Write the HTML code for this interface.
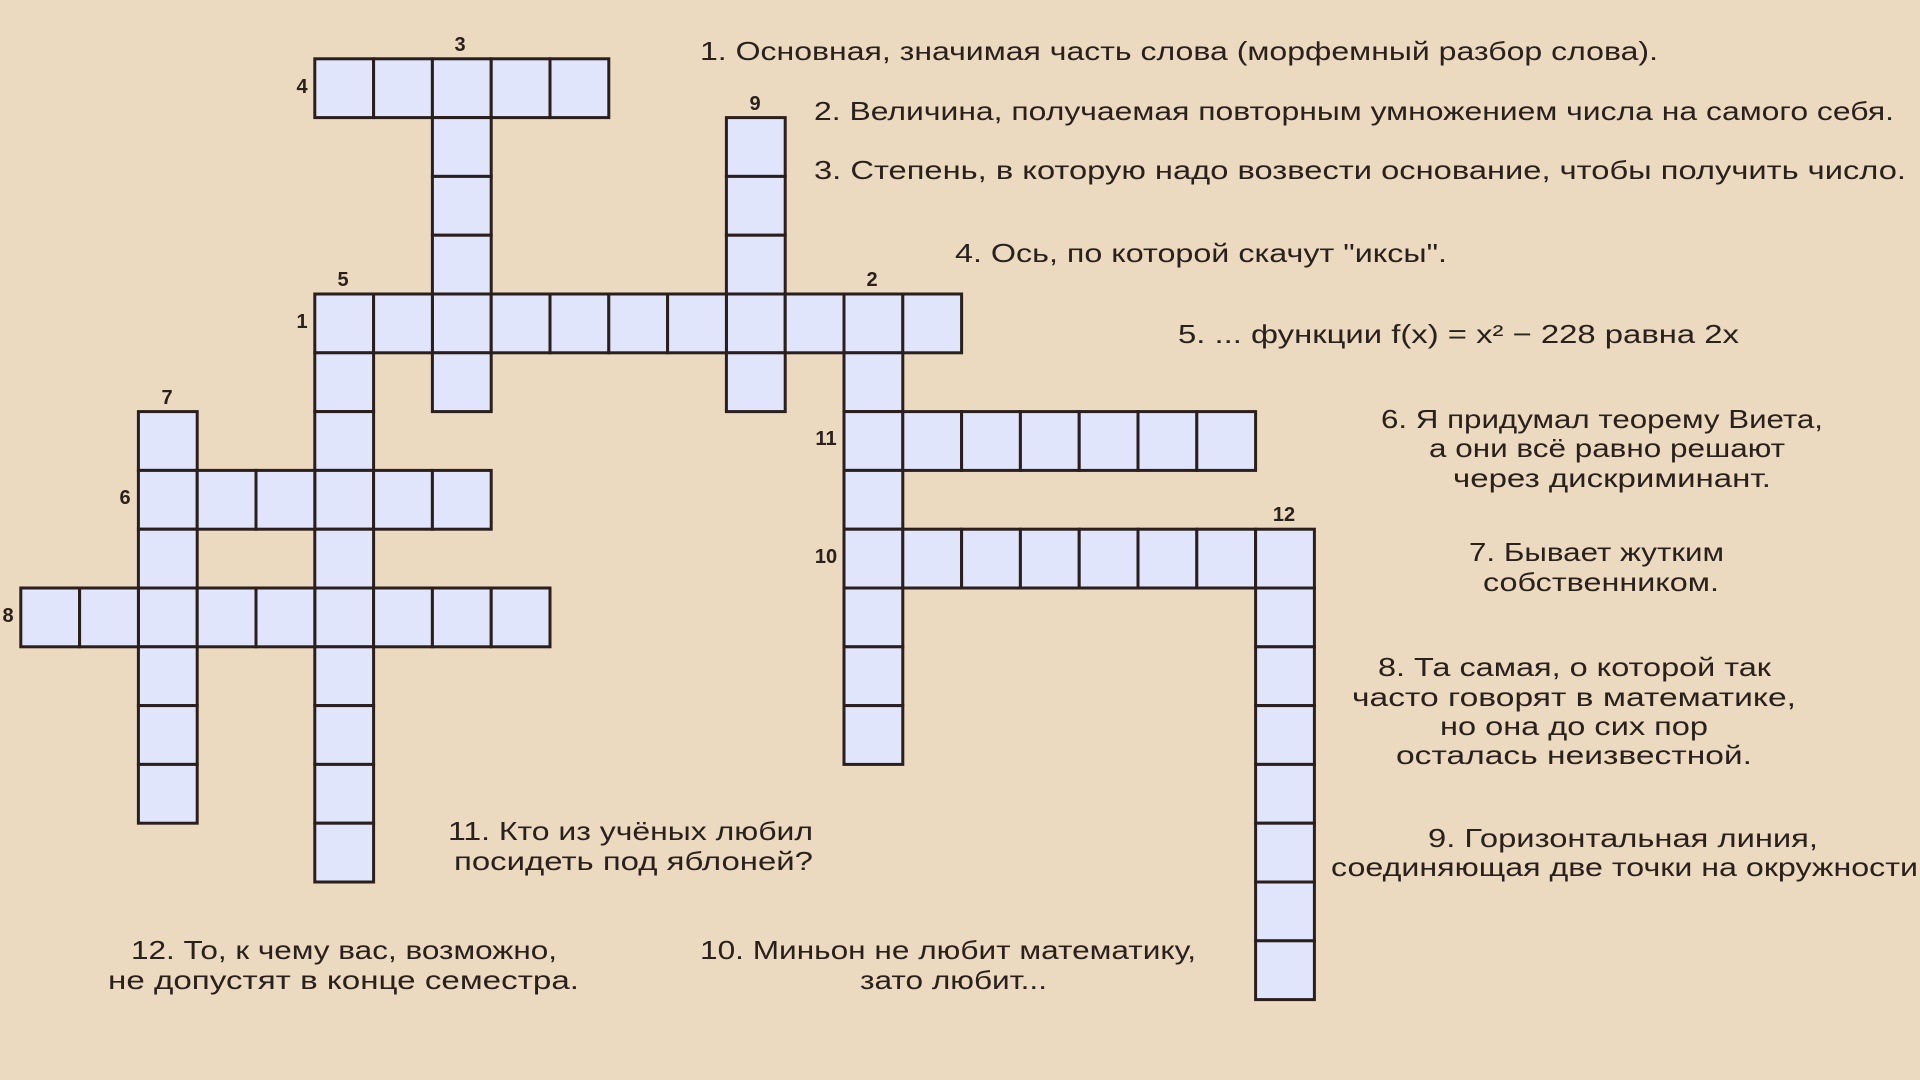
<!DOCTYPE html>
<html><head><meta charset="utf-8"><style>
html,body{margin:0;padding:0;background:#ebdac0;}
svg{display:block}
text{font-family:"Liberation Sans","DejaVu Sans",sans-serif;fill:#2a201c;}
.c{font-size:26px;}
.n{font-size:20px;font-weight:bold;font-family:"Liberation Sans",sans-serif;}
</style></head><body>
<svg id="s" width="1920" height="1080" viewBox="0 0 1920 1080" xmlns="http://www.w3.org/2000/svg">
<rect width="1920" height="1080" fill="#ebdac0"/>
<g id="cells"></g>
<g text-anchor="middle">
<text class="n" x="460" y="51">3</text>
<text class="n" x="302" y="93">4</text>
<text class="n" x="755" y="110">9</text>
<text class="n" x="343" y="286">5</text>
<text class="n" x="872" y="286">2</text>
<text class="n" x="302" y="328">1</text>
<text class="n" x="167" y="404">7</text>
<text class="n" x="826" y="445">11</text>
<text class="n" x="125" y="504">6</text>
<text class="n" x="1284" y="521">12</text>
<text class="n" x="826" y="563">10</text>
<text class="n" x="8" y="622">8</text>
</g>
<g>
<text class="c" x="700" y="60" textLength="958" lengthAdjust="spacingAndGlyphs">1. Основная, значимая часть слова (морфемный разбор слова).</text>
<text class="c" x="814" y="120" textLength="1080" lengthAdjust="spacingAndGlyphs">2. Величина, получаемая повторным умножением числа на самого себя.</text>
<text class="c" x="814" y="179" textLength="1092" lengthAdjust="spacingAndGlyphs">3. Степень, в которую надо возвести основание, чтобы получить число.</text>
<text class="c" x="955" y="262" textLength="492" lengthAdjust="spacingAndGlyphs">4. Ось, по которой скачут "иксы".</text>
<text class="c" x="1178" y="343" textLength="561" lengthAdjust="spacingAndGlyphs">5. ... функции f(x) = x² − 228 равна 2x</text>
<text class="c" x="1381" y="428" textLength="442" lengthAdjust="spacingAndGlyphs">6. Я придумал теорему Виета,</text>
<text class="c" x="1429" y="457" textLength="356" lengthAdjust="spacingAndGlyphs">а они всё равно решают</text>
<text class="c" x="1453" y="487" textLength="318" lengthAdjust="spacingAndGlyphs">через дискриминант.</text>
<text class="c" x="1469" y="561" textLength="255" lengthAdjust="spacingAndGlyphs">7. Бывает жутким</text>
<text class="c" x="1483" y="591" textLength="236" lengthAdjust="spacingAndGlyphs">собственником.</text>
<text class="c" x="1378" y="676" textLength="393" lengthAdjust="spacingAndGlyphs">8. Та самая, о которой так</text>
<text class="c" x="1352" y="706" textLength="444" lengthAdjust="spacingAndGlyphs">часто говорят в математике,</text>
<text class="c" x="1440" y="735" textLength="268" lengthAdjust="spacingAndGlyphs">но она до сих пор</text>
<text class="c" x="1396" y="764" textLength="356" lengthAdjust="spacingAndGlyphs">осталась неизвестной.</text>
<text class="c" x="1428" y="847" textLength="390" lengthAdjust="spacingAndGlyphs">9. Горизонтальная линия,</text>
<text class="c" x="1331" y="876" textLength="587" lengthAdjust="spacingAndGlyphs">соединяющая две точки на окружности</text>
<text class="c" x="448" y="840" textLength="365" lengthAdjust="spacingAndGlyphs">11. Кто из учёных любил</text>
<text class="c" x="454" y="870" textLength="359" lengthAdjust="spacingAndGlyphs">посидеть под яблоней?</text>
<text class="c" x="131" y="959" textLength="426" lengthAdjust="spacingAndGlyphs">12. То, к чему вас, возможно,</text>
<text class="c" x="108" y="989" textLength="471" lengthAdjust="spacingAndGlyphs">не допустят в конце семестра.</text>
<text class="c" x="700" y="959" textLength="496" lengthAdjust="spacingAndGlyphs">10. Миньон не любит математику,</text>
<text class="c" x="860" y="989" textLength="187" lengthAdjust="spacingAndGlyphs">зато любит...</text>
</g>
</svg>
<script>
(function(){
var X0=20.8,Y0=58.8,S=58.8,set={};
function h(r,c0,c1){for(var c=c0;c<=c1;c++)set[c+","+r]=1;}
function v(c,r0,r1){for(var r=r0;r<=r1;r++)set[c+","+r]=1;}
h(0,5,9);v(7,0,5);v(12,1,5);h(4,5,15);v(5,4,13);v(14,4,11);
h(6,14,20);h(8,14,21);v(21,8,15);v(2,6,12);h(7,2,7);h(9,0,8);
var g=document.getElementById("cells"),out="";
for(var k in set){var p=k.split(","),c=+p[0],r=+p[1];
out+='<rect x="'+(X0+S*c).toFixed(1)+'" y="'+(Y0+S*r).toFixed(1)+'" width="'+S+'" height="'+S+'" fill="#e1e5fc" stroke="#2a1f1c" stroke-width="3"/>';}
g.innerHTML=out;
})();
</script>
</body></html>
